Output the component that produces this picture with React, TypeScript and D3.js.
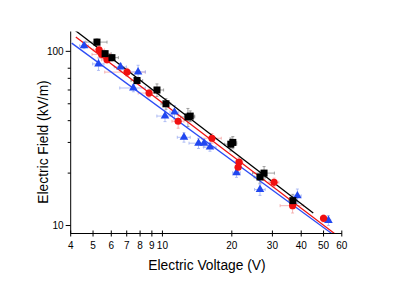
import React from 'react';
import * as d3 from 'd3';

// black squares
const blackV = [5.2, 5.64, 6.04, 7.76, 9.47, 10.36, 12.9, 13.2, 19.8, 20.2, 26.5, 27.6, 36.8];
const blackE = [113, 97, 92, 68, 60, 50, 42, 42.5, 29.3, 30, 19, 20, 13.9];
const blackDV = [0.55, 0.35, 0.4, 0.45, 0.65, 0.5, 0.9, 0.6, 1.2, 0.8, 1.5, 3, 1.5];
const blackDE = [5, 4, 4, 3, 5, 3.5, 5, 3, 2.5, 2.4, 1.5, 1.8, 1.2];

// red circles
const redV = [5.31, 5.45, 5.75, 7.02, 8.75, 11.7, 16.4, 21.5, 21.3, 30.5, 36.7, 50.0];
const redE = [102, 96, 89.5, 76, 57.6, 39.7, 31.7, 23.1, 21.6, 17.7, 13.0, 11.0];
const redDV = [0.3, 0.5, 0.3, 1.4, 0.9, 0.7, 1.6, 0.8, 0.6, 1.5, 4.3, 1.5];
const redDE = [6, 5, 4, 4, 3, 3.5, 2, 1.5, 2, 1, 1.2, 0.5];

// blue triangles
const blueV = [4.57, 5.28, 6.58, 7.84, 7.48, 10.26, 11.28, 12.4, 14.34, 15.15, 16.08, 20.96, 26.5, 38.5, 52.5];
const blueE = [107.6, 84.7, 81.4, 76.2, 61.6, 42.5, 44.8, 32.1, 29.7, 29.7, 28.2, 20.1, 16.1, 14.8, 10.7];
const blueDV = [0.2, 0.3, 0.4, 0.6, 0.95, 0.8, 0.5, 0.8, 1.3, 0.9, 1.0, 0.8, 1.4, 1.5, 1.2];
const blueDE = [4, 7, 4, 7, 3, 3, 4, 2, 2, 1.5, 1.5, 1.2, 1.2, 1.4, 0.7];

// fitted lines, [V, E] end points
const blackFit = [[4.15, 133], [45.1, 11.8]];
const redFit = [[4.21, 120.8], [56.1, 8.95]];
const blueFit = [[4.04, 111.5], [54.6, 8.95]];

const xTicks = [4, 5, 6, 7, 8, 9, 10, 20, 30, 40, 50, 60];
const yMajor = [10, 100];
const yMinor = [20, 30, 40, 50, 60, 70, 80];

const W = 398;
const H = 281;
const left = 70.7, right = 341.8, top = 31.5, bottom = 233.5;

export default function App() {
  const x = d3.scaleLog().domain([4, 60]).range([left, right]);
  const y = d3.scaleLog().domain([9, 130]).range([bottom, top]);
  const line = d3.line<number[]>().x(d => x(d[0])).y(d => y(d[1]));
  const font = '"Liberation Sans", Arial, sans-serif';

  const errBars = (V: number[], E: number[], dV: number[], dE: number[], color: string) =>
    V.map((v, i) => {
      const cx = x(v), cy = y(E[i]);
      const x1 = x(v - dV[i]), x2 = x(v + dV[i]);
      const y1 = y(E[i] + dE[i]), y2 = y(E[i] - dE[i]);
      return (
        <g key={i} stroke={color} strokeWidth={0.8}>
          <line x1={x1} x2={x2} y1={cy} y2={cy} />
          <line x1={x1} x2={x1} y1={cy - 1.5} y2={cy + 1.5} />
          <line x1={x2} x2={x2} y1={cy - 1.5} y2={cy + 1.5} />
          <line x1={cx} x2={cx} y1={y1} y2={y2} />
          <line x1={cx - 1.5} x2={cx + 1.5} y1={y1} y2={y1} />
          <line x1={cx - 1.5} x2={cx + 1.5} y1={y2} y2={y2} />
        </g>
      );
    });

  const tri = d3.symbol().type(d3.symbolTriangle).size(32)();

  return (
    <svg width={W} height={H} style={{ position: 'absolute', left: 0, top: 0, background: '#fff' }}>
      <defs>
        <clipPath id="plot">
          <rect x={left} y={top} width={right - left} height={bottom - top} />
        </clipPath>
      </defs>

      {/* error bars */}
      {errBars(blackV, blackE, blackDV, blackDE, '#8a8a8a')}
      {errBars(redV, redE, redDV, redDE, '#f4a3a3')}
      {errBars(blueV, blueE, blueDV, blueDE, '#9fb0f2')}

      {/* fits */}
      <g clipPath="url(#plot)" fill="none" strokeWidth={1.3}>
        <path d={line(blueFit) || ''} stroke="#2d4df5" />
        <path d={line(redFit) || ''} stroke="#f01010" />
        <path d={line(blackFit) || ''} stroke="#000" />
      </g>

      {/* markers */}
      {blueV.map((v, i) => (
        <path key={'b' + i} d={tri || ''} transform={`translate(${x(v)},${y(blueE[i])})`} fill="#2147f0" />
      ))}
      {redV.map((v, i) => (
        <circle key={'r' + i} cx={x(v)} cy={y(redE[i])} r={3.6} fill="#f01010" />
      ))}
      {blackV.map((v, i) => (
        <rect key={'k' + i} x={x(v) - 3.5} y={y(blackE[i]) - 3.5} width={7} height={7} fill="#000" />
      ))}

      {/* axes */}
      <g stroke="#000" strokeWidth={1}>
        <line x1={left} x2={left} y1={top} y2={bottom} />
        <line x1={left} x2={right} y1={bottom} y2={bottom} />
        {xTicks.map(t => (
          <line key={t} x1={x(t)} x2={x(t)} y1={bottom - 3} y2={bottom + 3} />
        ))}
        {yMajor.map(t => (
          <line key={t} x1={left - 5} x2={left} y1={y(t)} y2={y(t)} />
        ))}
        {yMinor.map(t => (
          <line key={t} x1={left - 3} x2={left} y1={y(t)} y2={y(t)} />
        ))}
      </g>
      <g fontFamily={font} fontSize={10} fill="#000">
        {xTicks.map(t => (
          <text key={t} x={x(t)} y={bottom + 15} textAnchor="middle">{t}</text>
        ))}
        {yMajor.map(t => (
          <text key={t} x={left - 7} y={y(t) + 3.5} textAnchor="end">{t}</text>
        ))}
      </g>
      <text x={207} y={270} textAnchor="middle" fontFamily={font} fontSize={13.8}>Electric Voltage (V)</text>
      <text transform="translate(48,142) rotate(-90)" textAnchor="middle" fontFamily={font} fontSize={13.8}>Electric Field (kV/m)</text>
    </svg>
  );
}
